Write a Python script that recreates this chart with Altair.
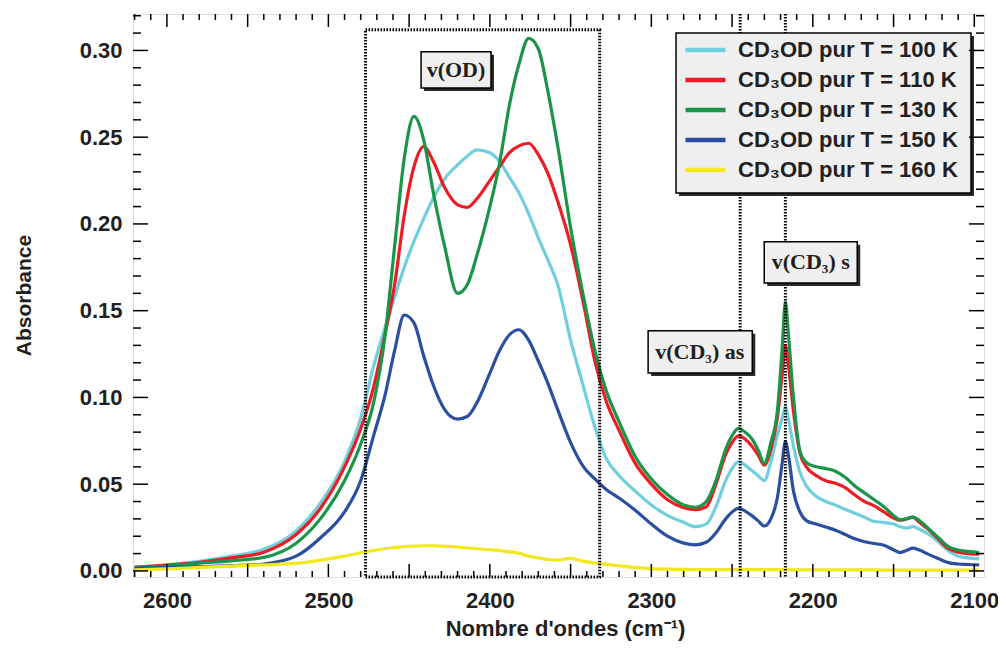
import altair as alt
import pandas as pd
import numpy as np

# ---------------- data ----------------
wavenumber = [2620, 2600, 2580, 2560, 2540, 2520, 2505, 2490, 2480, 2472,
              2465, 2459, 2453, 2447, 2441, 2435, 2428, 2420, 2414, 2408,
              2400, 2394, 2388, 2382, 2376, 2370, 2364, 2358, 2350, 2342,
              2335, 2328, 2320, 2310, 2300, 2290, 2280, 2273, 2266, 2260,
              2254, 2250, 2246, 2242, 2238, 2234, 2230, 2226, 2222, 2219,
              2217, 2215, 2212, 2208, 2204, 2198, 2192, 2186, 2180, 2174,
              2168, 2162, 2156, 2150, 2146, 2142, 2138, 2134, 2128, 2122,
              2116, 2110, 2104, 2097]

abs_100K = [0.002, 0.0035, 0.0055, 0.0085, 0.0125, 0.023, 0.039, 0.063, 0.088, 0.118,
            0.140, 0.158, 0.175, 0.190, 0.203, 0.215, 0.226, 0.234, 0.239, 0.2427,
            0.241, 0.236, 0.227, 0.218, 0.206, 0.192, 0.179, 0.165, 0.133, 0.106,
            0.083, 0.065, 0.055, 0.046, 0.038, 0.032, 0.028, 0.0255, 0.027, 0.037,
            0.052, 0.059, 0.063, 0.061, 0.058, 0.055, 0.052, 0.063, 0.078, 0.088,
            0.0947, 0.087, 0.072, 0.057, 0.049, 0.043, 0.040, 0.038, 0.0355, 0.0333,
            0.031, 0.0285, 0.028, 0.027, 0.0255, 0.0247, 0.0255, 0.024, 0.021, 0.0165,
            0.0115, 0.0085, 0.0075, 0.0069]

abs_110K = [0.002, 0.0033, 0.005, 0.0075, 0.0108, 0.021, 0.036, 0.060, 0.082, 0.106,
            0.136, 0.165, 0.205, 0.233, 0.2446, 0.236, 0.221, 0.211, 0.2095, 0.2145,
            0.225, 0.233, 0.241, 0.245, 0.2465, 0.240, 0.229, 0.213, 0.188, 0.154,
            0.121, 0.098, 0.081, 0.062, 0.050, 0.041, 0.0365, 0.0353, 0.037, 0.050,
            0.067, 0.074, 0.0778, 0.076, 0.0722, 0.067, 0.061, 0.070, 0.088, 0.113,
            0.130, 0.118, 0.092, 0.068, 0.060, 0.055, 0.052, 0.0505, 0.048, 0.0438,
            0.040, 0.0375, 0.034, 0.0305, 0.0292, 0.030, 0.031, 0.028, 0.0235, 0.018,
            0.0128, 0.0108, 0.010, 0.0097]

abs_130K = [0.002, 0.003, 0.0045, 0.0058, 0.0078, 0.016, 0.030, 0.052, 0.073, 0.097,
            0.135, 0.187, 0.238, 0.262, 0.2485, 0.218, 0.187, 0.160, 0.165, 0.182,
            0.210, 0.235, 0.268, 0.292, 0.307, 0.301, 0.276, 0.245, 0.198, 0.158,
            0.127, 0.104, 0.086, 0.066, 0.053, 0.044, 0.038, 0.0367, 0.040, 0.052,
            0.070, 0.078, 0.0822, 0.080, 0.0765, 0.070, 0.062, 0.074, 0.092, 0.128,
            0.155, 0.135, 0.100, 0.069, 0.0625, 0.060, 0.059, 0.0575, 0.054, 0.049,
            0.045, 0.041, 0.037, 0.032, 0.0295, 0.030, 0.031, 0.029, 0.024, 0.019,
            0.014, 0.012, 0.0113, 0.0106]

abs_150K = [0.0015, 0.002, 0.0025, 0.003, 0.004, 0.0085, 0.019, 0.034, 0.052, 0.078,
            0.101, 0.127, 0.1475, 0.143, 0.124, 0.107, 0.093, 0.0875, 0.089, 0.097,
            0.114, 0.127, 0.136, 0.139, 0.133, 0.121, 0.108, 0.093, 0.074, 0.060,
            0.053, 0.047, 0.042, 0.035, 0.027, 0.020, 0.016, 0.015, 0.0165, 0.022,
            0.030, 0.034, 0.036, 0.0345, 0.032, 0.029, 0.0259, 0.030, 0.042, 0.062,
            0.0746, 0.066, 0.046, 0.034, 0.029, 0.027, 0.0253, 0.0235, 0.021, 0.0185,
            0.0168, 0.0158, 0.0148, 0.0122, 0.0106, 0.0118, 0.0131, 0.012, 0.0094, 0.007,
            0.0048, 0.004, 0.0037, 0.0035]

abs_160K = [0.0006, 0.0012, 0.002, 0.0028, 0.0035, 0.0043, 0.0062, 0.0085, 0.0105, 0.0118,
            0.0128, 0.0135, 0.014, 0.0143, 0.0145, 0.0145, 0.0142, 0.0138, 0.0133, 0.0128,
            0.0122, 0.0117, 0.011, 0.0102, 0.0085, 0.0075, 0.0066, 0.0062, 0.0072, 0.0055,
            0.0045, 0.0038, 0.003, 0.002, 0.0013, 0.001, 0.0009, 0.0008, 0.0008, 0.0008,
            0.0007, 0.0007, 0.0007, 0.0007, 0.0007, 0.0007, 0.0007, 0.0007, 0.0007, 0.0007,
            0.0007, 0.0007, 0.0006, 0.0006, 0.0006, 0.0006, 0.0006, 0.0006, 0.0006, 0.0006,
            0.0006, 0.0006, 0.0005, 0.0005, 0.0005, 0.0005, 0.0005, 0.0005, 0.0005, 0.0005,
            0.0005, 0.0005, 0.0005, 0.0005]

series_labels = ["CD\u2083OD pur T = 100 K", "CD\u2083OD pur T = 110 K",
                 "CD\u2083OD pur T = 130 K", "CD\u2083OD pur T = 150 K",
                 "CD\u2083OD pur T = 160 K"]
series_colors = ["#6fcfdd", "#ed1c24", "#1a9548", "#2b4fa0", "#f2e81b"]

x_tick_labels = [2600, 2500, 2400, 2300, 2200, 2100]
y_tick_labels = [0.00, 0.05, 0.10, 0.15, 0.20, 0.25, 0.30]

# annotations (text, centre x, centre y, box x1, x2, y1, y2) in data units
ann_text = ["v(OD)", "v(CD\u2083) as", "v(CD\u2083) s"]
ann_cx = [2421.0, 2270.0, 2201.3]
ann_cy = [0.2888, 0.1262, 0.1778]
ann_x1 = [2442.6, 2302.0, 2230.1]
ann_x2 = [2399.3, 2237.5, 2172.5]
ann_y1 = [0.2992, 0.1384, 0.1897]
ann_y2 = [0.2784, 0.1141, 0.1660]

mode_lines = [2245, 2217]
od_band = [2477, 2332]

# ---------------- build ----------------
rows = []
for lab, vals in zip(series_labels, [abs_100K, abs_110K, abs_130K, abs_150K, abs_160K]):
    for w, v in zip(wavenumber, vals):
        rows.append({"w": w, "a": v, "serie": lab})
df = pd.DataFrame(rows)

W, H = 851, 563
PAD_L = 125
X_DOM = [2094, 2621]
Y_DOM = [-0.0035, 0.321]
xs = alt.Scale(domain=X_DOM, reverse=True, nice=False, zero=False)
ys = alt.Scale(domain=Y_DOM, nice=False, zero=False)

FONT = "Liberation Sans"
TXT = "#231f20"

x_axis = alt.Axis(values=x_tick_labels, format="d", title="Nombre d'ondes (cm\u207b\u00b9)",
                  ticks=False, tickSize=0, domain=False, grid=False,
                  labelFont=FONT, labelFontSize=22, labelFontWeight="bold", labelColor=TXT,
                  labelPadding=13, labelFlush=False,
                  titleFont="Liberation Sans Narrow, Liberation Sans", titleFontSize=22,
                  titleFontWeight="bold", titleColor=TXT,
                  titleX=432, titleY=51, titleAlign="center", titleBaseline="middle")
y_axis = alt.Axis(values=y_tick_labels, format=".2f", title="Absorbance",
                  ticks=False, tickSize=0, domain=False, grid=False,
                  labelFont=FONT, labelFontSize=22, labelFontWeight="bold", labelColor=TXT,
                  labelPadding=11, labelFlush=False,
                  titleFont=FONT, titleFontSize=21, titleFontWeight="bold", titleColor=TXT,
                  titleX=-109, titleY=281, titleAngle=-90, titleAlign="center",
                  titleBaseline="middle")

legend = alt.Legend(orient="none", legendX=550, legendY=25, title=None,
                    symbolType="stroke", symbolSize=1600, symbolStrokeWidth=4.5,
                    clipHeight=22, rowPadding=8, padding=0,
                    labelFont=FONT, labelFontSize=22, labelFontWeight="bold",
                    labelColor=TXT, labelOffset=10, labelLimit=400)

lines = alt.Chart(df).mark_line(strokeWidth=3.2, interpolate="monotone").encode(
    x=alt.X("w:Q", scale=xs, axis=x_axis),
    y=alt.Y("a:Q", scale=ys, axis=y_axis),
    color=alt.Color("serie:N", scale=alt.Scale(domain=series_labels, range=series_colors),
                    legend=legend),
)

# dotted guides
rules_df = pd.DataFrame({"w": mode_lines, "top": [Y_DOM[1]] * 2, "bot": [Y_DOM[0]] * 2})
mode_rules = alt.Chart(rules_df).mark_rule(color="black", strokeWidth=3,
                                            strokeDash=[1.5, 1.5]).encode(
    x=alt.X("w:Q", scale=xs), y=alt.Y("top:Q", scale=ys), y2="bot:Q")

od_df = pd.DataFrame({"x1": [od_band[0]], "x2": [od_band[1]], "y1": [0.3119], "y2": [Y_DOM[0]]})
od_box = alt.Chart(od_df).mark_rect(fill=None, fillOpacity=0, stroke="black", strokeWidth=3,
                                    strokeDash=[1.5, 1.5]).encode(
    x=alt.X("x1:Q", scale=xs), x2="x2:Q", y=alt.Y("y1:Q", scale=ys), y2="y2:Q")

ann_df = pd.DataFrame({"t": ann_text, "cx": ann_cx, "cy": ann_cy,
                       "x1": ann_x1, "x2": ann_x2, "y1": ann_y1, "y2": ann_y2})
ann_shadow = alt.Chart(ann_df).mark_rect(fill="#2a2a2a", xOffset=3, x2Offset=3,
                                         yOffset=3, y2Offset=3).encode(
    x=alt.X("x1:Q", scale=xs), x2="x2:Q", y=alt.Y("y1:Q", scale=ys), y2="y2:Q")
ann_box = alt.Chart(ann_df).mark_rect(fill="#efefef", stroke="black", strokeWidth=1.5).encode(
    x=alt.X("x1:Q", scale=xs), x2="x2:Q", y=alt.Y("y1:Q", scale=ys), y2="y2:Q")
ann_txt = alt.Chart(ann_df).mark_text(font="Liberation Serif", fontSize=22, fontWeight="bold",
                                      color=TXT, align="center", baseline="middle").encode(
    x=alt.X("cx:Q", scale=xs), y=alt.Y("cy:Q", scale=ys), text="t:N")

# legend frame
one = pd.DataFrame({"k": [0]})
leg_shadow = alt.Chart(one).mark_rect(fill="#2a2a2a").encode(
    x=alt.value(546), x2=alt.value(841), y=alt.value(22), y2=alt.value(182))
leg_box = alt.Chart(one).mark_rect(fill="#efefef", stroke="black", strokeWidth=1.5).encode(
    x=alt.value(543), x2=alt.value(838), y=alt.value(19), y2=alt.value(179))

# inward ticks on the four sides
xt_major = pd.DataFrame({"w": np.arange(2100, 2621, 50)})
xt_minor = pd.DataFrame({"w": [v for v in range(2100, 2621, 10) if v % 50]})
yt_major = pd.DataFrame({"a": np.round(np.arange(0, 0.301, 0.05), 2)})
yt_minor = pd.DataFrame({"a": [round(v / 100, 2) for v in range(0, 33) if v % 5]})

def xticks(d, L):
    b = alt.Chart(d).mark_rule(color="black", strokeWidth=1.5).encode(
        x=alt.X("w:Q", scale=xs), y=alt.value(H), y2=alt.value(H - L))
    t = alt.Chart(d).mark_rule(color="black", strokeWidth=1.5).encode(
        x=alt.X("w:Q", scale=xs), y=alt.value(0), y2=alt.value(L))
    return [b, t]

def yticks(d, L):
    l = alt.Chart(d).mark_rule(color="black", strokeWidth=1.5).encode(
        y=alt.Y("a:Q", scale=ys), x=alt.value(0), x2=alt.value(L))
    r = alt.Chart(d).mark_rule(color="black", strokeWidth=1.5).encode(
        y=alt.Y("a:Q", scale=ys), x=alt.value(W), x2=alt.value(W - L))
    return [l, r]

tick_layers = xticks(xt_major, 13) + xticks(xt_minor, 6) + yticks(yt_major, 15) + yticks(yt_minor, 8)

chart = alt.layer(
    lines, mode_rules, od_box, ann_shadow, ann_box, ann_txt, leg_shadow, leg_box, *tick_layers
).properties(
    width=W, height=H,
    autosize=alt.AutoSizeParams(type="none"),
    padding={"left": PAD_L, "top": 6, "right": 990 - PAD_L - W, "bottom": 73},
).configure_view(stroke="black", strokeWidth=2).configure(background="white")

chart.save("out.html", embed_options={"renderer": "svg", "actions": False})
